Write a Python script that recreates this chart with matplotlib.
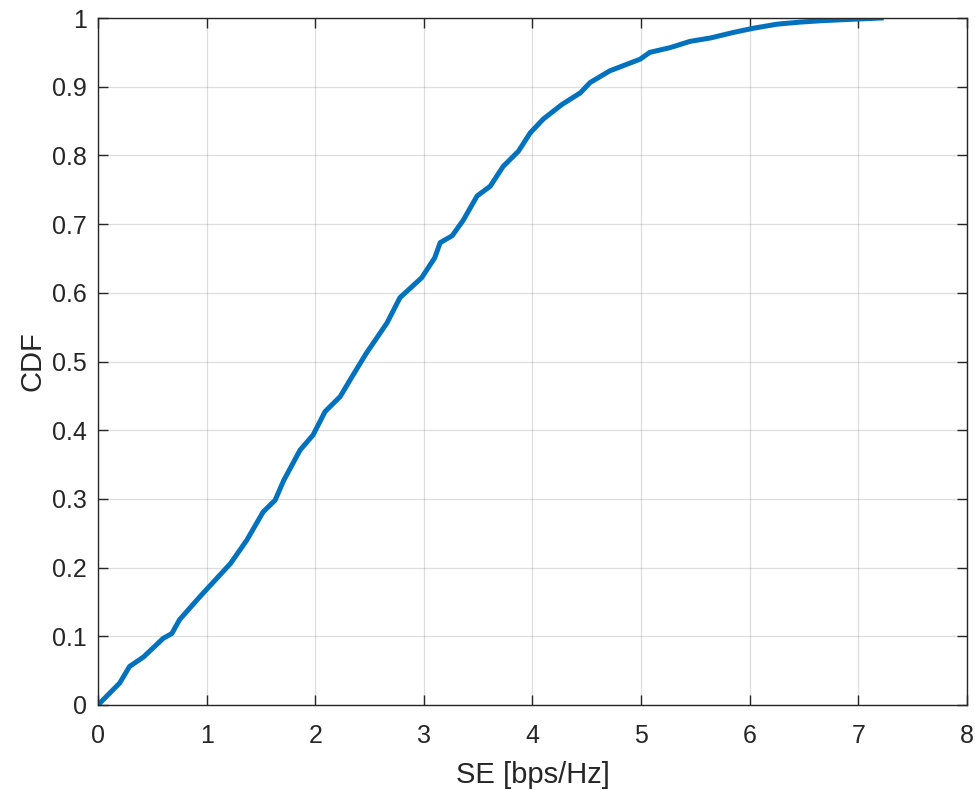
import matplotlib.pyplot as plt
from matplotlib.ticker import FuncFormatter

se = [0.0, 0.20, 0.29, 0.42, 0.60, 0.68, 0.75, 0.94, 1.08, 1.22, 1.37, 1.52, 1.63,
      1.71, 1.86, 1.98, 2.09, 2.23, 2.32, 2.47, 2.66, 2.78, 2.98, 3.10, 3.15, 3.26,
      3.36, 3.49, 3.61, 3.73, 3.87, 3.98, 4.10, 4.27, 4.44, 4.53, 4.71, 4.99, 5.08,
      5.27, 5.45, 5.64, 5.85, 6.03, 6.25, 6.46, 6.65, 6.92, 7.21]
cdf = [0.0, 0.032, 0.056, 0.070, 0.097, 0.104, 0.124, 0.158, 0.182, 0.206, 0.240,
       0.281, 0.298, 0.327, 0.371, 0.393, 0.427, 0.449, 0.473, 0.512, 0.556, 0.593,
       0.622, 0.651, 0.673, 0.683, 0.705, 0.741, 0.755, 0.784, 0.806, 0.833, 0.853,
       0.874, 0.891, 0.906, 0.923, 0.940, 0.950, 0.957, 0.966, 0.971, 0.979, 0.985,
       0.991, 0.994, 0.996, 0.998, 1.0]

x_ticks = list(range(0, 9))
y_ticks = [i / 10 for i in range(11)]

plt.rcParams['font.family'] = ['Liberation Sans', 'DejaVu Sans']
dark = (0.15, 0.15, 0.15)

fig = plt.figure(figsize=(9.75, 7.9), dpi=100)
ax = fig.add_axes([0.1005, 0.1076, 0.8913, 0.8696])
ax.plot(se, cdf, color=(0, 0.447, 0.741), lw=3.6, solid_joinstyle='round')

ax.set_xlim(0, 8)
ax.set_ylim(0, 1)
ax.set_xticks(x_ticks)
ax.set_yticks(y_ticks)
ax.yaxis.set_major_formatter(FuncFormatter(lambda v, p: f"{v:g}"))
ax.grid(True, color=dark, alpha=0.15, lw=0.9)
ax.set_axisbelow(True)
ax.tick_params(direction='in', top=True, right=True, length=7, width=1,
               colors=dark, labelsize=18)
ax.tick_params(axis='x', pad=14)
ax.tick_params(axis='y', pad=8)
for s in ax.spines.values():
    s.set_color(dark)
    s.set_linewidth(1)
ax.set_xlabel('SE [bps/Hz]', fontsize=21, color=dark, labelpad=9)
ax.set_ylabel('CDF', fontsize=21, color=dark, labelpad=4)

fig.savefig('out.png', dpi=100)
